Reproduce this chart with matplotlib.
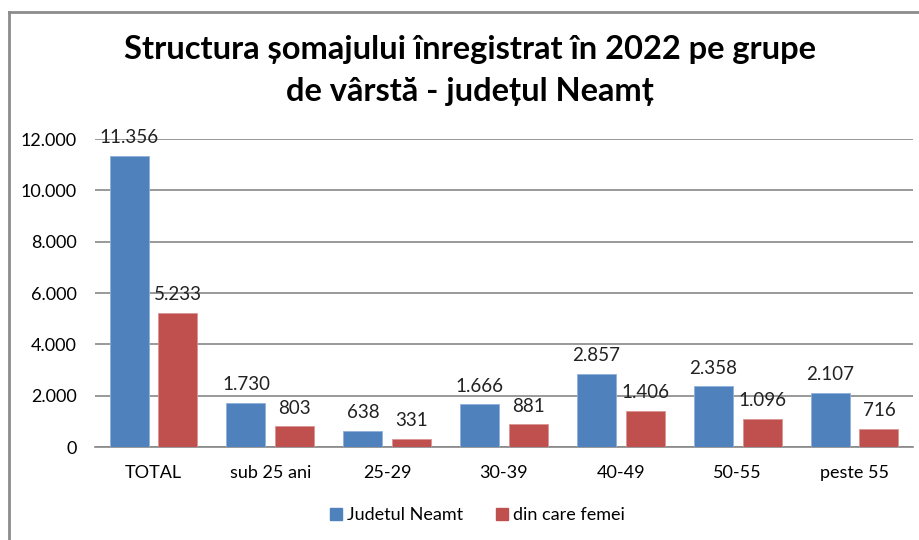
import matplotlib.pyplot as plt
import numpy as np
from matplotlib.lines import Line2D

# Data
categories = ['TOTAL', 'sub 25 ani', '25-29', '30-39', '40-49', '50-55', 'peste 55']
judet_values = [11356, 1730, 638, 1666, 2857, 2358, 2107]
femei_values = [5233, 803, 331, 881, 1406, 1096, 716]
series_names = ['Judetul Neamt', 'din care femei']
y_ticks = [0, 2000, 4000, 6000, 8000, 10000, 12000]

blue = '#4F81BD'
red = '#C0504D'

plt.rcParams['font.family'] = ['Lato', 'DejaVu Sans']


def fmt(v):
    # Romanian thousands separator
    return f'{v:,}'.replace(',', '.')


fig = plt.figure(figsize=(9.2, 5.4), dpi=100)
ax = fig.add_axes([95 / 920, 1 - 447 / 540, 818 / 920, (447 - 139) / 540])

x = np.arange(len(categories))
w = 0.334
off = 0.208
b1 = ax.bar(x - off, judet_values, w, color=blue, edgecolor='#8FB0DA', linewidth=0.6,
            label=series_names[0], zorder=3)
b2 = ax.bar(x + off, femei_values, w, color=red, edgecolor='#DA9593', linewidth=0.6,
            label=series_names[1], zorder=3)

for bars, vals in ((b1, judet_values), (b2, femei_values)):
    for rect, v in zip(bars, vals):
        ax.annotate(fmt(v), (rect.get_x() + rect.get_width() / 2, v),
                    xytext=(0, 7), textcoords='offset points',
                    ha='center', va='bottom', fontsize=13.5, color='#222222', zorder=4)

ax.set_xlim(-0.5, len(categories) - 0.5)
ax.set_ylim(0, 12000)
ax.set_yticks(y_ticks)
ax.set_yticklabels([fmt(t) for t in y_ticks], fontsize=13)
ax.set_xticks(x)
ax.set_xticklabels(categories, fontsize=13)
ax.tick_params(axis='x', length=0, pad=13)
ax.tick_params(axis='y', length=0, pad=13)
ax.grid(axis='y', color='#888888', linewidth=1.2, zorder=0)
for side in ('left', 'right', 'top'):
    ax.spines[side].set_visible(False)
ax.spines['bottom'].set_color('#888888')
ax.spines['bottom'].set_linewidth(1.2)

fig.text(470 / 920, 1 - 49 / 540, 'Structura șomajului înregistrat în 2022 pe grupe',
         ha='center', va='center', fontsize=23.5, fontweight='bold')
fig.text(470 / 920, 1 - 92 / 540, 'de vârstă - județul Neamț',
         ha='center', va='center', fontsize=23.5, fontweight='bold')

handles = [Line2D([], [], marker='s', linestyle='', markersize=9, color=blue),
           Line2D([], [], marker='s', linestyle='', markersize=9, color=red)]
fig.legend(handles, series_names, loc='center', bbox_to_anchor=(475 / 920, 1 - 515 / 540),
           ncol=2, frameon=False, fontsize=13, handletextpad=0.0, columnspacing=1.6,
           handlelength=1.2)

# chart frame (left and top edges visible in the reference)
frame_color = '#8C8C8C'
fig.add_artist(Line2D([9 / 920, 9 / 920], [0, 1 - 12 / 540], color=frame_color, linewidth=2,
                      transform=fig.transFigure))
fig.add_artist(Line2D([9 / 920, 1], [1 - 12 / 540, 1 - 12 / 540], color=frame_color, linewidth=2,
                      transform=fig.transFigure))

fig.savefig('out.png', dpi=100)
